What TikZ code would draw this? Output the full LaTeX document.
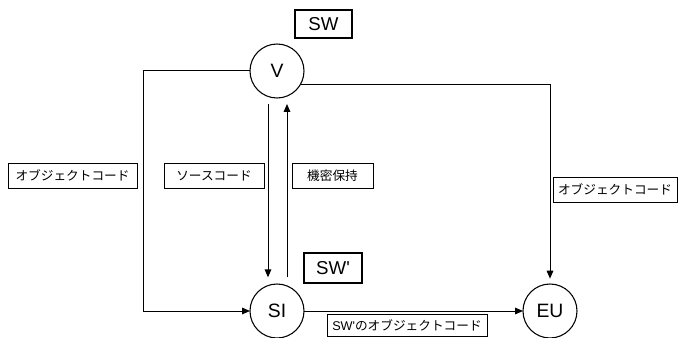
\documentclass[tikz,border=0pt]{standalone}
\usepackage{fontspec}
\setmainfont{Liberation Sans}
\newfontfamily\jp{Noto Sans CJK JP}
\usetikzlibrary{arrows.meta,positioning}

\begin{document}
\begin{tikzpicture}[
    x=1pt,y=1pt,
    party/.style={circle,draw,line width=0.8pt,inner sep=0pt,outer sep=0pt,minimum size=40.5pt,font=\fontsize{14.5}{17}\selectfont},
    swbox/.style={draw,line width=0.8pt,inner sep=0pt,minimum height=21pt,font=\fontsize{14}{17}\selectfont},
    flowlabel/.style={draw,line width=0.5pt,inner sep=0pt,minimum height=18.75pt,font=\fontsize{9.5}{11}\selectfont\jp},
    flow/.style={line width=0.75pt,-{Triangle[length=6pt,width=5pt]}}
    ]
    \useasboundingbox (0,0) rectangle (508.5,-253.5);

    \node (V) [party] at (207.75,-53.25) {V};
    \node (SI) [party,below=139.5pt of V] {SI};
    \node (EU) [party,right=164.25pt of SI] {EU};

    \node (sw) [swbox,minimum width=42.75pt] at (242.6,-18) {SW};
    \node (swp) [swbox,minimum width=43.5pt,minimum height=22.5pt] at (249.75,-201) {SW\textquotesingle};

    \coordinate (corner) at (107.25,-53.25);

    % flows
    \draw[flow] (V.west) -- (corner) |- (SI.west);
    \draw[flow] ([xshift=-6.75pt,yshift=-4.5pt]V.south) -- ([xshift=-6.75pt,yshift=5pt]SI.north);
    \draw[flow] ([xshift=7.5pt,yshift=5pt]SI.north) -- ([xshift=7.5pt,yshift=-4.5pt]V.south);
    \draw[flow] (V.-29) -| ([yshift=4pt]EU.north);
    \draw[flow] (SI) -- (EU);

    \node (objl) [flowlabel,minimum width=96.75pt] at (54.4,-131.6) {オブジェクトコード};
    \node (src) [flowlabel,minimum width=75pt] at (160.5,-131.6) {ソースコード};
    \node (nda) [flowlabel,minimum width=60.75pt] at (249.4,-131.6) {機密保持};
    \node (objr) [flowlabel,minimum width=93pt] at (461.25,-142.1) {オブジェクトコード};
    \node (objsw) [flowlabel,minimum width=120pt,minimum height=16.5pt] at (305.25,-244.1) {{\fontspec{Liberation Sans}SW\textquotesingle}のオブジェクトコード};
\end{tikzpicture}
\end{document}
